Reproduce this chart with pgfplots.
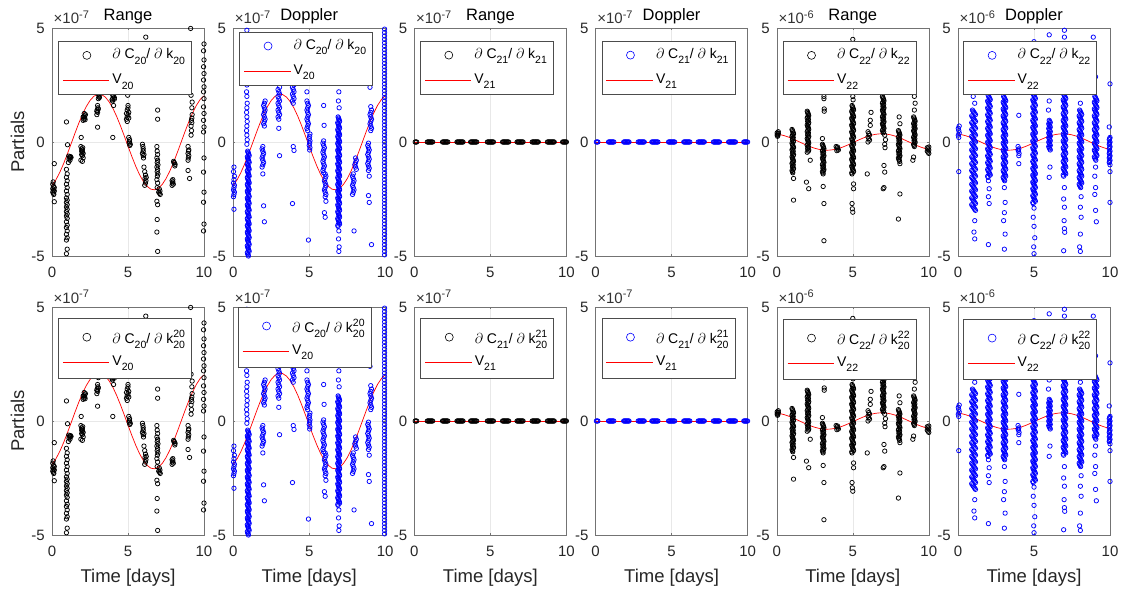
\documentclass[border=0pt]{standalone}
\usepackage{fontspec}
\setmainfont{Liberation Sans}
\usepackage{pgfplots}
\usepackage{pgfplotstable}
\pgfplotsset{compat=1.18}

% ---------------- model curves ----------------
\pgfplotstableread[row sep=\\]{
t v\\
0 -1.903\\ 0.25 -1.666\\ 0.5 -1.350\\ 0.75 -0.970\\ 1 -0.544\\ 1.25 -0.092\\ 1.5 0.365\\ 1.75 0.804\\
2 1.205\\ 2.25 1.548\\ 2.5 1.819\\ 2.75 2.003\\ 3 2.092\\ 3.25 2.082\\ 3.5 1.973\\ 3.75 1.771\\
4 1.485\\ 4.25 1.128\\ 4.5 0.718\\ 4.75 0.274\\ 5 -0.183\\ 5.25 -0.631\\ 5.5 -1.050\\ 5.75 -1.419\\
6 -1.720\\ 6.25 -1.940\\ 6.5 -2.068\\ 6.75 -2.098\\ 7 -2.028\\ 7.25 -1.863\\ 7.5 -1.609\\ 7.75 -1.278\\
8 -0.887\\ 8.25 -0.454\\ 8.5 0\\ 8.75 0.454\\ 9 0.887\\ 9.25 1.278\\ 9.5 1.609\\ 9.75 1.863\\ 10 2.028\\
}\Vtw
\pgfplotstableread[row sep=\\]{
t v\\
0 0.348\\ 0.25 0.319\\ 0.5 0.276\\ 0.75 0.219\\ 1 0.152\\ 1.25 0.078\\ 1.5 0\\ 1.75 -0.078\\
2 -0.152\\ 2.25 -0.219\\ 2.5 -0.276\\ 2.75 -0.319\\ 3 -0.348\\ 3.25 -0.360\\ 3.5 -0.355\\ 3.75 -0.333\\
4 -0.295\\ 4.25 -0.243\\ 4.5 -0.180\\ 4.75 -0.108\\ 5 -0.031\\ 5.25 0.047\\ 5.5 0.123\\ 5.75 0.193\\
6 0.255\\ 6.25 0.304\\ 6.5 0.338\\ 6.75 0.357\\ 7 0.359\\ 7.25 0.343\\ 7.5 0.312\\ 7.75 0.265\\
8 0.206\\ 8.25 0.138\\ 8.5 0.062\\ 8.75 -0.016\\ 9 -0.093\\ 9.25 -0.166\\ 9.5 -0.231\\ 9.75 -0.286\\ 10 -0.326\\
}\Vtt
\pgfplotstableread[row sep=\\]{
t v\\
0 0\\ 10 0\\
}\Vzero

% ---------------- range partials C20 ----------------
\pgfplotstableread[row sep=\\]{
t v\\
0.05 -1.85\\ 0.10 -1.95\\ 0.15 -2.00\\ 0.05 -2.05\\ 0.10 -2.10\\ 0.15 -2.15\\ 0.05 -2.20\\ 0.10 -2.25\\ 0.12 -2.30\\ 0.15 -0.95\\ 0.15 -2.62\\ 0.08 -1.75\\
0.95 -1.20\\ 1.00 -1.40\\ 0.95 -1.55\\ 1.00 -1.70\\ 0.95 -1.85\\ 1.00 -2.00\\ 0.95 -2.15\\ 1.00 -2.30\\ 0.95 -2.45\\ 1.00 -2.55\\ 0.95 -2.65\\ 1.00 -2.75\\ 0.95 -2.85\\ 1.00 -2.95\\ 0.95 -3.05\\ 1.00 -3.15\\ 0.95 -3.25\\ 1.00 -3.35\\ 0.95 -3.50\\ 1.00 -3.65\\ 0.95 -3.75\\ 1.00 -3.90\\ 0.95 -4.05\\ 1.00 -4.20\\ 0.95 -4.30\\ 1.00 -4.70\\ 0.95 -4.90\\ 0.95 0.88\\ 1.02 -0.12\\
1.10 -0.62\\ 1.15 -0.66\\ 1.20 -0.70\\ 1.25 -0.68\\ 1.12 -0.75\\ 1.18 -0.80\\ 1.22 -0.64\\ 1.08 -0.90\\
2.05 0.95\\ 2.10 1.00\\ 2.15 1.05\\ 2.10 1.10\\ 2.15 1.15\\ 2.20 1.20\\ 2.05 1.10\\ 2.12 1.25\\ 2.18 0.98\\
1.90 -0.20\\ 1.95 -0.30\\ 2.00 -0.35\\ 2.00 -0.45\\ 2.05 -0.50\\ 1.95 -0.55\\ 2.00 -0.60\\ 2.05 -0.70\\ 1.90 -0.80\\ 2.00 -0.85\\ 1.95 -0.40\\ 2.02 -0.25\\ 1.92 0.20\\
2.95 1.20\\ 3.00 1.30\\ 2.97 1.40\\ 3.02 1.50\\ 3.00 1.60\\ 2.95 1.35\\ 3.05 1.45\\ 3.00 0.65\\ 3.05 1.90\\ 3.10 2.00\\ 3.08 2.05\\ 3.12 1.95\\ 3.10 2.10\\
3.95 1.85\\ 4.00 1.90\\ 4.05 2.00\\ 4.10 1.95\\ 4.00 2.05\\ 3.98 1.80\\ 4.05 1.60\\ 4.00 0.20\\ 4.10 1.88\\
4.90 1.00\\ 4.95 1.10\\ 5.00 1.20\\ 5.05 1.30\\ 4.95 1.40\\ 5.00 1.50\\ 4.90 1.25\\ 5.05 1.05\\ 5.00 1.60\\ 4.95 0.90\\ 5.05 0.20\\ 5.10 0.10\\ 5.10 0.00\\ 5.15 -0.10\\ 5.12 -0.15\\ 5.08 -0.05\\ 4.98 2.05\\ 6.17 4.60\\
5.95 -0.10\\ 6.00 -0.30\\ 6.00 -0.40\\ 5.95 -0.50\\ 6.05 -0.55\\ 6.00 -0.60\\ 6.02 -0.70\\ 5.98 -0.20\\ 6.10 -1.30\\ 6.15 -1.45\\ 6.12 -1.60\\ 6.18 -1.70\\ 6.15 -1.80\\ 6.20 -1.55\\ 6.10 -1.90\\ 6.05 -1.10\\
6.95 1.40\\ 6.95 1.00\\ 6.90 -0.20\\ 6.92 -0.40\\ 6.95 -0.55\\ 6.90 -0.70\\ 6.95 -0.80\\ 6.92 -0.90\\ 6.97 -1.00\\ 6.90 -1.10\\ 6.95 -1.20\\ 6.92 -1.30\\ 6.97 -1.40\\ 6.93 -1.50\\ 6.90 -1.65\\ 6.95 -1.80\\ 6.92 -2.00\\ 6.90 -2.60\\ 6.95 -2.75\\ 6.92 -3.40\\ 6.90 -3.95\\ 6.95 -4.80\\ 7.05 -2.05\\ 7.10 -2.15\\ 7.08 -2.25\\ 7.12 -2.30\\ 7.02 -2.20\\
8.00 -0.85\\ 8.05 -0.92\\ 8.10 -0.98\\ 8.08 -1.05\\ 8.02 -0.90\\ 7.90 -1.70\\ 7.95 -1.75\\ 7.92 -1.80\\ 7.98 -1.85\\ 7.90 -1.90\\ 7.95 -1.65\\
9.15 0.30\\ 9.18 0.50\\ 9.15 0.70\\ 9.20 0.85\\ 9.17 0.95\\ 9.20 1.05\\ 9.22 1.20\\ 9.20 1.50\\ 9.22 1.75\\ 9.15 2.05\\ 8.95 -0.20\\ 8.98 -0.40\\ 8.95 -0.50\\ 9.00 -0.60\\ 8.97 -0.70\\ 8.95 -0.80\\ 9.00 -0.35\\ 8.95 -1.25\\ 9.05 -1.60\\ 9.12 4.98\\
10.00 4.30\\ 9.97 4.00\\ 10.00 3.60\\ 9.97 3.30\\ 10.00 3.00\\ 9.97 2.72\\ 10.00 2.42\\ 9.97 2.20\\ 10.00 1.90\\ 9.97 1.54\\ 10.00 1.25\\ 9.97 0.95\\ 10.00 0.66\\ 9.97 0.44\\ 10.00 -0.70\\ 9.97 -1.32\\ 10.00 -2.20\\ 9.97 -2.64\\ 10.00 -3.60\\ 9.97 -3.90\\
}\Rtw

% ---------------- doppler partials C20 ----------------
\pgfplotstableread[row sep=\\]{
t v\\
0.05 -1.10\\ 0.02 -1.30\\ 0.08 -1.50\\ 0.05 -1.65\\ 0.02 -1.80\\ 0.08 -1.90\\ 0.05 -2.00\\ 0.02 -2.10\\ 0.08 -2.20\\ 0.05 -2.30\\ 0.02 -2.40\\ 0.05 -2.95\\
0.95 -0.40\\ 1.00 -0.50\\ 1.05 -0.60\\ 0.95 -0.70\\ 1.00 -0.80\\ 1.05 -0.90\\ 0.95 -1.00\\ 1.00 -1.10\\ 1.05 -1.20\\ 0.95 -1.30\\ 1.00 -1.40\\ 1.05 -1.50\\ 0.95 -1.60\\ 1.00 -1.70\\ 1.05 -1.80\\ 0.95 -1.90\\ 1.00 -2.00\\ 1.05 -2.10\\ 0.95 -2.20\\ 1.00 -2.30\\ 1.05 -2.40\\ 0.95 -2.50\\ 1.00 -2.60\\ 1.05 -2.70\\ 0.95 -2.80\\ 1.00 -2.90\\ 1.05 -3.00\\ 0.95 -3.10\\ 1.00 -3.20\\ 1.05 -3.30\\ 0.95 -3.40\\ 1.00 -3.50\\ 1.05 -3.60\\ 0.95 -3.70\\ 1.00 -3.80\\ 1.05 -3.90\\ 0.95 -4.00\\ 1.00 -4.10\\ 1.05 -4.20\\ 0.95 -4.30\\ 1.00 -4.40\\ 1.05 -4.50\\ 0.95 -4.60\\ 1.00 -4.70\\ 1.05 -4.80\\ 0.95 -4.90\\ 1.00 -5.00\\
0.90 4.90\\ 0.90 2.50\\ 0.88 2.20\\ 0.90 2.00\\ 0.92 1.70\\ 0.90 1.50\\ 0.88 1.30\\ 0.90 1.10\\ 0.92 0.90\\ 0.90 0.70\\ 0.88 0.50\\ 0.90 0.30\\ 0.92 0.10\\ 0.90 -0.10\\
2.05 0.70\\ 2.00 0.80\\ 2.05 0.90\\ 2.10 1.00\\ 2.05 1.10\\ 2.00 1.20\\ 2.05 1.30\\ 2.10 1.40\\ 2.05 1.50\\ 2.00 1.60\\ 2.05 1.70\\ 2.10 1.80\\ 1.95 -0.20\\ 1.90 -0.30\\ 1.95 -0.40\\ 2.00 -0.50\\ 1.95 -0.60\\ 1.90 -0.70\\ 1.95 -0.80\\ 2.00 -0.90\\ 1.95 -1.00\\ 1.90 -1.10\\ 1.95 -1.40\\ 2.00 -2.80\\ 2.05 -3.50\\
3.00 1.00\\ 2.95 1.10\\ 3.05 1.20\\ 3.00 1.30\\ 2.95 1.40\\ 3.05 1.50\\ 3.00 1.60\\ 2.95 1.70\\ 3.05 1.80\\ 3.00 1.90\\ 2.95 2.00\\ 3.05 2.10\\ 3.00 2.20\\ 2.95 2.30\\ 3.05 2.40\\ 3.00 0.60\\ 3.05 -0.60\\
3.95 1.70\\ 3.90 1.80\\ 4.00 1.90\\ 3.95 2.00\\ 3.90 2.10\\ 4.00 2.20\\ 3.95 2.30\\ 3.90 2.40\\ 4.00 2.50\\ 3.95 2.60\\ 3.90 2.70\\ 4.00 2.80\\ 3.95 2.90\\ 3.90 3.00\\ 3.95 -0.20\\ 4.00 -0.37\\ 3.90 -2.70\\
4.90 0.50\\ 4.85 0.60\\ 4.90 0.70\\ 4.95 0.80\\ 4.90 0.90\\ 4.85 1.00\\ 4.90 1.10\\ 4.95 1.20\\ 4.90 1.30\\ 4.85 1.40\\ 4.90 1.50\\ 4.95 1.60\\ 4.90 1.70\\ 4.85 1.80\\ 5.03 -0.35\\ 5.05 -0.25\\ 5.00 -0.15\\ 5.03 -0.05\\ 5.05 0.05\\ 5.00 0.15\\ 5.03 0.25\\ 5.05 0.35\\ 4.85 2.20\\ 4.95 -4.30\\
5.95 0.05\\ 5.90 -0.05\\ 5.95 -0.15\\ 6.00 -0.25\\ 5.95 -0.35\\ 5.90 -0.45\\ 5.95 -0.55\\ 6.00 -0.65\\ 5.95 -0.75\\ 5.90 -0.85\\ 5.95 -0.95\\ 6.00 -1.05\\ 5.95 -1.15\\ 5.90 -1.25\\ 5.95 -1.35\\ 6.05 -1.40\\ 6.10 -1.50\\ 6.05 -1.60\\ 6.00 -1.70\\ 6.05 -1.80\\ 6.10 -1.90\\ 6.05 -2.00\\ 6.00 -2.10\\ 6.05 -2.20\\ 6.10 -2.30\\ 6.05 -2.40\\ 5.95 1.60\\ 5.98 0.73\\ 6.10 -2.60\\ 6.00 -3.10\\ 6.05 -3.30\\
6.90 1.10\\ 6.95 1.00\\ 7.00 0.90\\ 6.90 0.80\\ 6.95 0.70\\ 7.00 0.60\\ 6.90 0.50\\ 6.95 0.40\\ 7.00 0.30\\ 6.90 0.20\\ 6.95 0.10\\ 7.00 0.00\\ 6.90 -0.10\\ 6.95 -0.20\\ 7.00 -0.30\\ 6.90 -0.40\\ 6.95 -0.50\\ 7.00 -0.60\\ 6.90 -0.70\\ 6.95 -0.80\\ 7.00 -0.90\\ 6.90 -1.00\\ 6.95 -1.10\\ 7.00 -1.20\\ 6.90 -1.30\\ 6.95 -1.40\\ 7.00 -1.50\\ 6.90 -1.60\\ 6.95 -1.70\\ 7.00 -1.80\\ 6.90 -1.90\\ 6.95 -2.00\\ 7.00 -2.10\\ 6.90 -2.20\\ 6.95 -2.30\\ 7.00 -2.40\\ 6.90 -2.50\\ 6.95 -2.60\\ 7.00 -2.70\\ 6.90 -2.80\\ 6.95 -2.90\\ 7.00 -3.00\\ 6.90 -3.10\\ 6.95 -3.20\\ 7.00 -3.30\\ 6.90 -3.40\\ 6.95 -3.50\\ 7.00 -3.60\\ 6.90 -3.70\\ 6.95 2.20\\ 6.92 1.80\\ 6.97 1.50\\ 6.95 -3.90\\ 6.93 -4.25\\ 6.97 -4.60\\ 6.95 -4.80\\
8.05 -0.70\\ 8.10 -0.80\\ 8.05 -0.90\\ 8.00 -1.00\\ 8.05 -1.10\\ 8.10 -1.20\\ 7.90 -1.40\\ 7.85 -1.50\\ 7.90 -1.60\\ 7.95 -1.70\\ 7.90 -1.80\\ 7.85 -1.90\\ 7.90 -2.00\\ 7.95 -2.10\\ 7.90 -2.20\\ 7.85 -2.30\\ 7.95 -3.90\\
9.05 0.50\\ 9.10 0.60\\ 9.05 0.70\\ 9.00 0.80\\ 9.05 0.90\\ 9.10 1.00\\ 9.05 1.10\\ 9.00 1.20\\ 9.05 1.30\\ 9.10 1.40\\ 9.05 1.55\\ 8.90 -0.05\\ 8.85 -0.15\\ 8.90 -0.25\\ 8.95 -0.35\\ 8.90 -0.45\\ 8.85 -0.55\\ 8.90 -0.65\\ 8.95 -0.75\\ 8.90 -0.85\\ 8.85 -0.95\\ 8.90 -1.05\\ 8.95 -1.15\\ 8.90 -1.25\\ 9.00 2.40\\ 8.95 -1.50\\ 8.90 -2.35\\ 8.95 -2.65\\ 9.10 -4.50\\
9.96 4.95\\ 9.96 4.80\\ 9.96 4.65\\ 9.96 4.50\\ 9.96 4.35\\ 9.96 4.20\\ 9.96 4.05\\ 9.96 3.90\\ 9.96 3.75\\ 9.96 3.60\\ 9.96 3.45\\ 9.96 3.30\\ 9.96 3.15\\ 9.96 3.00\\ 9.96 2.85\\ 9.96 2.70\\ 9.96 2.55\\ 9.96 2.40\\ 9.96 2.25\\ 9.96 2.10\\ 9.96 1.95\\ 9.96 1.80\\ 9.96 1.65\\ 9.96 1.50\\ 9.96 1.35\\ 9.96 1.20\\ 9.96 1.05\\ 9.96 0.90\\ 9.96 0.75\\ 9.96 0.60\\ 9.96 0.45\\ 9.96 0.30\\ 9.96 0.15\\ 9.96 0.00\\ 9.96 -0.15\\ 9.96 -0.30\\ 9.96 -0.45\\ 9.96 -0.60\\ 9.96 -0.75\\ 9.96 -0.90\\ 9.96 -1.05\\ 9.96 -1.20\\ 9.96 -1.35\\ 9.96 -1.50\\ 9.96 -1.65\\ 9.96 -1.80\\ 9.96 -1.95\\ 9.96 -2.10\\ 9.96 -2.25\\ 9.96 -2.40\\ 9.96 -2.55\\ 9.96 -2.70\\ 9.96 -2.85\\ 9.96 -3.00\\ 9.96 -3.15\\ 9.96 -3.30\\ 9.96 -3.45\\ 9.96 -3.60\\ 9.96 -3.75\\ 9.96 -3.90\\ 9.96 -4.05\\ 9.96 -4.20\\ 9.96 -4.35\\ 9.96 -4.50\\ 9.96 -4.65\\ 9.96 -4.80\\ 9.96 -4.95\\
}\Dtw
\pgfplotstableread[row sep=\\]{
t v\\
0.98 -0.45\\ 1.03 -0.55\\ 0.93 -0.65\\ 0.98 -0.75\\ 1.03 -0.85\\ 0.93 -0.95\\ 0.98 -1.05\\ 1.03 -1.15\\ 0.93 -1.25\\ 0.98 -1.35\\ 1.03 -1.45\\ 0.93 -1.55\\ 0.98 -1.65\\ 1.03 -1.75\\ 0.93 -1.85\\ 0.98 -1.95\\ 1.03 -2.05\\ 0.93 -2.15\\ 0.98 -2.25\\ 1.03 -2.35\\ 0.93 -2.45\\ 0.98 -2.55\\ 1.03 -2.65\\ 0.93 -2.75\\ 0.98 -2.85\\ 1.03 -2.95\\ 0.93 -3.05\\ 0.98 -3.15\\ 1.03 -3.25\\ 0.93 -3.35\\ 0.98 -3.45\\ 1.03 -3.55\\ 0.93 -3.65\\ 0.98 -3.75\\ 1.03 -3.85\\ 0.93 -3.95\\ 0.98 -4.05\\ 1.03 -4.15\\ 0.93 -4.25\\ 0.98 -4.35\\ 1.03 -4.45\\ 0.93 -4.55\\ 0.98 -4.65\\ 1.03 -4.75\\ 0.93 -4.85\\ 0.98 -4.95\\
6.93 1.05\\ 6.98 0.95\\ 6.88 0.85\\ 6.93 0.75\\ 6.98 0.65\\ 6.88 0.55\\ 6.93 0.45\\ 6.98 0.35\\ 6.88 0.25\\ 6.93 0.15\\ 6.98 0.05\\ 6.88 -0.05\\ 6.93 -0.15\\ 6.98 -0.25\\ 6.88 -0.35\\ 6.93 -0.45\\ 6.98 -0.55\\ 6.88 -0.65\\ 6.93 -0.75\\ 6.98 -0.85\\ 6.88 -0.95\\ 6.93 -1.05\\ 6.98 -1.15\\ 6.88 -1.25\\ 6.93 -1.35\\ 6.98 -1.45\\ 6.88 -1.55\\ 6.93 -1.65\\ 6.98 -1.75\\ 6.88 -1.85\\ 6.93 -1.95\\ 6.98 -2.05\\ 6.88 -2.15\\ 6.93 -2.25\\ 6.98 -2.35\\ 6.88 -2.45\\ 6.93 -2.55\\ 6.98 -2.65\\ 6.88 -2.75\\ 6.93 -2.85\\ 6.98 -2.95\\ 6.88 -3.05\\ 6.93 -3.15\\ 6.98 -3.25\\ 6.88 -3.35\\ 6.93 -3.45\\ 6.98 -3.55\\ 6.88 -3.65\\
}\DtwB

% ---------------- C21 partials (zero) ----------------
\pgfplotstableread[row sep=\\]{
t v\\
0.05 0\\ 0.10 0\\ 0.15 0\\
0.85 0\\ 0.90 0\\ 0.95 0\\ 1.00 0\\ 1.05 0\\ 1.10 0\\ 1.15 0\\ 1.20 0\\
1.85 0\\ 1.90 0\\ 1.95 0\\ 2.00 0\\ 2.05 0\\ 2.10 0\\ 2.15 0\\ 2.20 0\\
2.80 0\\ 2.85 0\\ 2.90 0\\ 2.95 0\\ 3.00 0\\ 3.05 0\\ 3.10 0\\ 3.15 0\\ 3.20 0\\
3.70 0\\ 3.75 0\\ 3.80 0\\ 3.85 0\\ 3.90 0\\ 3.95 0\\ 4.00 0\\ 4.05 0\\ 4.10 0\\
4.80 0\\ 4.85 0\\ 4.90 0\\ 4.95 0\\ 5.00 0\\ 5.05 0\\ 5.10 0\\ 5.15 0\\ 5.20 0\\
5.80 0\\ 5.85 0\\ 5.90 0\\ 5.95 0\\ 6.00 0\\ 6.05 0\\ 6.10 0\\ 6.15 0\\ 6.20 0\\
6.75 0\\ 6.80 0\\ 6.85 0\\ 6.90 0\\ 6.95 0\\ 7.00 0\\ 7.05 0\\ 7.10 0\\ 7.15 0\\
7.75 0\\ 7.80 0\\ 7.85 0\\ 7.90 0\\ 7.95 0\\ 8.00 0\\ 8.05 0\\ 8.10 0\\ 8.15 0\\
8.75 0\\ 8.80 0\\ 8.85 0\\ 8.90 0\\ 8.95 0\\ 9.00 0\\ 9.05 0\\ 9.10 0\\ 9.15 0\\ 9.20 0\\
9.75 0\\ 9.80 0\\ 9.85 0\\ 9.90 0\\ 9.95 0\\ 10.00 0\\
}\Zr

% ---------------- range partials C22 ----------------
\pgfplotstableread[row sep=\\]{
t v\\
0.02 0.40\\ 0.05 0.35\\ 0.08 0.30\\ 0.10 0.38\\ 0.05 0.25\\ 0.10 0.45\\ 0.02 0.30\\
1.00 0.55\\ 1.05 0.45\\ 1.10 0.35\\ 1.00 0.25\\ 1.05 0.15\\ 1.10 0.05\\ 1.00 -0.05\\ 1.05 -0.15\\ 1.10 -0.25\\ 1.00 -0.35\\ 1.05 -0.45\\ 1.10 -0.55\\ 1.00 -0.65\\ 1.05 -0.75\\ 1.10 -0.85\\ 1.00 -0.95\\ 1.05 -1.05\\ 1.10 -1.15\\ 1.00 -1.25\\ 1.05 -1.35\\ 1.10 -1.60\\ 1.10 -2.55\\
2.00 1.35\\ 2.05 1.25\\ 2.10 1.15\\ 2.00 1.05\\ 2.05 0.95\\ 2.10 0.85\\ 2.00 0.75\\ 2.05 0.65\\ 2.10 0.55\\ 2.00 0.45\\ 2.05 0.35\\ 2.10 0.25\\ 2.00 0.15\\ 2.05 0.05\\ 2.10 -0.05\\ 2.00 -0.15\\ 2.05 -0.25\\ 2.10 -0.35\\ 2.00 -0.45\\ 2.20 -0.80\\ 1.95 -1.76\\ 2.10 -2.05\\
3.00 -0.10\\ 3.05 -0.20\\ 3.10 -0.30\\ 3.00 -0.40\\ 3.05 -0.50\\ 3.10 -0.60\\ 3.00 -0.70\\ 3.05 -0.80\\ 3.10 -0.90\\ 3.00 -1.00\\ 3.05 -1.10\\ 3.10 -1.20\\ 3.00 -1.30\\ 3.05 -1.40\\ 3.10 2.00\\ 3.10 1.90\\ 3.12 1.45\\ 3.12 1.35\\ 3.00 0.15\\ 3.05 -1.95\\ 3.10 -2.70\\ 3.10 -4.33\\
3.90 -0.20\\ 3.95 -0.25\\ 4.00 -0.30\\ 4.05 -0.35\\ 3.95 -0.38\\ 4.00 -0.22\\
4.95 1.60\\ 5.00 1.50\\ 5.05 1.40\\ 4.95 1.30\\ 5.00 1.20\\ 5.05 1.10\\ 4.95 1.00\\ 5.00 0.90\\ 5.05 0.80\\ 4.95 0.70\\ 5.00 0.60\\ 5.05 0.50\\ 4.95 0.40\\ 5.00 0.30\\ 5.05 0.20\\ 4.95 0.10\\ 5.00 0.00\\ 5.05 -0.10\\ 4.95 -0.20\\ 5.00 -0.30\\ 5.05 -0.40\\ 4.95 -0.50\\ 5.00 -0.60\\ 5.05 -0.70\\ 4.95 -0.80\\ 5.00 -0.90\\ 5.05 -1.00\\ 4.95 -1.10\\ 5.00 -1.20\\ 5.05 -1.30\\ 4.95 -1.40\\ 5.00 4.50\\ 5.00 2.00\\ 5.02 1.85\\ 5.05 -1.84\\ 5.05 -2.05\\ 4.95 -2.70\\ 4.97 -2.93\\ 5.00 -3.08\\
6.00 0.45\\ 6.05 0.37\\ 6.10 0.30\\ 6.00 0.22\\ 6.05 0.15\\ 6.10 0.08\\ 6.00 0.00\\ 6.20 1.30\\ 6.15 0.95\\ 6.15 0.73\\ 5.95 -1.40\\
6.95 2.00\\ 7.00 1.90\\ 7.05 1.80\\ 6.95 1.70\\ 7.00 1.60\\ 7.05 1.50\\ 6.95 1.40\\ 7.00 1.30\\ 7.05 1.20\\ 6.95 1.10\\ 7.00 1.00\\ 7.05 0.90\\ 6.95 0.80\\ 7.00 0.70\\ 7.05 0.60\\ 6.95 0.50\\ 7.00 0.40\\ 7.10 0.30\\ 7.15 0.10\\ 7.10 -0.10\\ 7.12 -0.25\\ 7.05 -1.03\\ 7.10 -1.32\\ 7.00 -2.05\\ 7.05 -2.00\\
8.00 0.50\\ 8.05 0.40\\ 8.10 0.30\\ 8.00 0.20\\ 8.05 0.10\\ 8.10 0.00\\ 8.00 -0.10\\ 8.05 -0.20\\ 8.10 -0.30\\ 8.00 -0.40\\ 8.05 -0.50\\ 8.10 -0.60\\ 8.00 -0.70\\ 8.05 -0.80\\ 8.10 -0.95\\ 8.05 1.10\\ 8.10 0.80\\ 8.10 -2.28\\ 8.00 -3.38\\
9.00 1.10\\ 9.05 1.00\\ 9.10 0.90\\ 9.00 0.80\\ 9.05 0.70\\ 9.10 0.60\\ 9.00 0.50\\ 9.05 0.40\\ 9.10 0.30\\ 9.00 0.20\\ 9.05 0.10\\ 9.10 0.00\\ 9.00 -0.10\\ 9.05 -0.20\\ 9.05 2.00\\ 9.10 1.70\\ 9.05 1.40\\ 9.00 -0.66\\ 8.95 -0.80\\
9.90 -0.25\\ 9.95 -0.30\\ 10.00 -0.35\\ 9.95 -0.45\\ 10.00 -0.50\\ 9.90 -0.40\\ 10.00 -0.22\\
}\Rtt
\pgfplotstableread[row sep=\\]{
t v\\
1.03 0.50\\ 1.08 0.40\\ 1.03 0.30\\ 1.08 0.20\\ 1.03 0.10\\ 1.08 0.00\\ 1.03 -0.10\\ 1.08 -0.20\\ 1.03 -0.30\\ 1.08 -0.40\\ 1.03 -0.50\\ 1.08 -0.60\\ 1.03 -0.70\\ 1.08 -0.80\\ 1.03 -0.90\\ 1.08 -1.00\\ 1.03 -1.10\\ 1.08 -1.20\\ 1.03 -1.30\\
2.03 1.30\\ 2.08 1.20\\ 2.03 1.10\\ 2.08 1.00\\ 2.03 0.90\\ 2.08 0.80\\ 2.03 0.70\\ 2.08 0.60\\ 2.03 0.50\\ 2.08 0.40\\ 2.03 0.30\\ 2.08 0.20\\ 2.03 0.10\\ 2.08 0.00\\ 2.03 -0.10\\ 2.08 -0.20\\ 2.03 -0.30\\ 2.08 -0.40\\
3.03 -0.15\\ 3.08 -0.25\\ 3.03 -0.35\\ 3.08 -0.45\\ 3.03 -0.55\\ 3.08 -0.65\\ 3.03 -0.75\\ 3.08 -0.85\\ 3.03 -0.95\\ 3.08 -1.05\\ 3.03 -1.15\\ 3.08 -1.25\\ 3.03 -1.35\\
4.98 1.55\\ 5.03 1.45\\ 4.93 1.35\\ 4.98 1.25\\ 5.03 1.15\\ 4.93 1.05\\ 4.98 0.95\\ 5.03 0.85\\ 4.93 0.75\\ 4.98 0.65\\ 5.03 0.55\\ 4.93 0.45\\ 4.98 0.35\\ 5.03 0.25\\ 4.93 0.15\\ 4.98 0.05\\ 5.03 -0.05\\ 4.93 -0.15\\ 4.98 -0.25\\ 5.03 -0.35\\ 4.93 -0.45\\ 4.98 -0.55\\ 5.03 -0.65\\ 4.93 -0.75\\ 4.98 -0.85\\ 5.03 -0.95\\ 4.93 -1.05\\ 4.98 -1.15\\ 5.03 -1.25\\ 4.93 -1.35\\
6.98 1.95\\ 7.03 1.85\\ 6.98 1.75\\ 7.03 1.65\\ 6.98 1.55\\ 7.03 1.45\\ 6.98 1.35\\ 7.03 1.25\\ 6.98 1.15\\ 7.03 1.05\\ 6.98 0.95\\ 7.03 0.85\\ 6.98 0.75\\ 7.03 0.65\\ 6.98 0.55\\ 7.03 0.45\\
8.03 0.45\\ 8.08 0.35\\ 8.03 0.25\\ 8.08 0.15\\ 8.03 0.05\\ 8.08 -0.05\\ 8.03 -0.15\\ 8.08 -0.25\\ 8.03 -0.35\\ 8.08 -0.45\\ 8.03 -0.55\\ 8.08 -0.65\\ 8.03 -0.75\\ 8.08 -0.85\\
9.03 1.05\\ 9.08 0.95\\ 9.03 0.85\\ 9.08 0.75\\ 9.03 0.65\\ 9.08 0.55\\ 9.03 0.45\\ 9.08 0.35\\ 9.03 0.25\\ 9.08 0.15\\ 9.03 0.05\\ 9.08 -0.05\\ 9.03 -0.15\\
}\RttB

% ---------------- doppler partials C22 ----------------
\pgfplotstableread[row sep=\\]{
t v\\
0.05 0.20\\ 0.02 0.30\\ 0.08 0.40\\ 0.05 0.50\\ 0.02 0.60\\ 0.08 0.70\\ 0.05 -1.30\\
0.95 1.40\\ 1.05 1.30\\ 1.15 1.20\\ 0.95 1.10\\ 1.05 1.00\\ 1.15 0.90\\ 0.95 0.80\\ 1.05 0.70\\ 1.15 0.60\\ 0.95 0.50\\ 1.05 0.40\\ 1.15 0.30\\ 0.95 0.20\\ 1.05 0.10\\ 1.15 0.00\\ 0.95 -0.10\\ 1.05 -0.20\\ 1.15 -0.30\\ 0.95 -0.40\\ 1.05 -0.50\\ 1.15 -0.60\\ 0.95 -0.70\\ 1.05 -0.80\\ 1.15 -0.90\\ 0.95 -1.00\\ 1.05 -1.10\\ 1.15 -1.20\\ 0.95 -1.30\\ 1.05 -1.40\\ 1.15 -1.50\\ 0.95 -1.60\\ 1.05 -1.70\\ 1.15 -1.80\\ 0.95 -1.90\\ 1.05 -2.00\\ 1.15 -2.10\\ 0.95 -2.20\\ 1.05 -2.30\\ 1.15 -2.40\\ 0.95 -2.50\\ 1.05 -2.60\\ 1.15 -2.70\\ 0.95 -2.80\\ 1.05 -2.90\\ 1.15 -3.00\\ 1.00 2.00\\ 1.10 1.70\\ 1.10 -3.45\\ 1.05 -3.95\\ 1.10 -4.25\\
1.98 2.05\\ 2.05 1.95\\ 2.12 1.85\\ 1.98 1.75\\ 2.05 1.65\\ 2.12 1.55\\ 1.98 1.45\\ 2.05 1.35\\ 2.12 1.25\\ 1.98 1.15\\ 2.05 1.05\\ 2.12 0.95\\ 1.98 0.85\\ 2.05 0.75\\ 2.12 0.65\\ 1.98 0.55\\ 2.05 0.45\\ 2.12 0.35\\ 1.98 0.25\\ 2.05 0.15\\ 2.12 0.05\\ 1.98 -0.05\\ 2.05 -0.15\\ 2.12 -0.25\\ 1.98 -0.35\\ 2.05 -0.45\\ 2.12 -0.55\\ 1.98 -0.65\\ 2.05 -0.75\\ 2.12 -0.85\\ 1.98 -0.95\\ 2.05 -1.05\\ 2.12 -1.15\\ 1.98 -1.25\\ 2.05 -1.35\\ 2.12 -1.45\\ 1.98 -1.55\\ 2.00 -1.70\\ 2.05 -2.05\\ 2.00 -2.40\\ 2.05 -2.70\\ 2.00 -4.50\\
3.00 2.00\\ 3.07 1.90\\ 3.14 1.80\\ 3.00 1.70\\ 3.07 1.60\\ 3.14 1.50\\ 3.00 1.40\\ 3.07 1.30\\ 3.14 1.20\\ 3.00 1.10\\ 3.07 1.00\\ 3.14 0.90\\ 3.00 0.80\\ 3.07 0.70\\ 3.14 0.60\\ 3.00 0.50\\ 3.07 0.40\\ 3.14 0.30\\ 3.00 0.20\\ 3.07 0.10\\ 3.14 0.00\\ 3.00 -0.10\\ 3.07 -0.20\\ 3.14 -0.30\\ 3.00 -0.40\\ 3.07 -0.50\\ 3.14 -0.60\\ 3.00 -0.70\\ 3.07 -0.80\\ 3.14 -0.90\\ 3.00 -1.00\\ 3.07 -1.10\\ 3.14 -1.20\\ 3.00 -1.30\\ 3.07 -1.40\\ 3.14 -1.50\\ 3.00 -1.60\\ 3.07 -1.70\\ 3.05 -2.00\\ 3.10 -2.65\\ 3.05 -3.10\\ 3.00 -3.45\\ 3.10 -4.04\\ 3.05 -4.70\\
3.95 -0.20\\ 4.00 -0.30\\ 3.98 -0.40\\ 4.02 -0.50\\ 4.00 -0.60\\ 3.95 -0.35\\ 4.00 1.17\\ 4.00 -0.95\\
4.95 2.10\\ 5.02 2.00\\ 5.09 1.90\\ 4.95 1.80\\ 5.02 1.70\\ 5.09 1.60\\ 4.95 1.50\\ 5.02 1.40\\ 5.09 1.30\\ 4.95 1.20\\ 5.02 1.10\\ 5.09 1.00\\ 4.95 0.90\\ 5.02 0.80\\ 5.09 0.70\\ 4.95 0.60\\ 5.02 0.50\\ 5.09 0.40\\ 4.95 0.30\\ 5.02 0.20\\ 5.09 0.10\\ 4.95 0.00\\ 5.02 -0.10\\ 5.09 -0.20\\ 4.95 -0.30\\ 5.02 -0.40\\ 5.09 -0.50\\ 4.95 -0.60\\ 5.02 -0.70\\ 5.09 -0.80\\ 4.95 -0.90\\ 5.02 -1.00\\ 5.09 -1.10\\ 4.95 -1.20\\ 5.02 -1.30\\ 5.09 -1.40\\ 4.95 -1.50\\ 5.02 -1.60\\ 5.09 -1.70\\ 4.95 -1.80\\ 5.02 -1.90\\ 5.09 -2.00\\ 4.95 -2.10\\ 5.02 -2.20\\ 5.09 -2.30\\ 4.95 -2.40\\ 5.02 -2.50\\ 5.09 -2.60\\ 4.95 -2.70\\ 5.00 4.40\\ 5.00 3.90\\ 5.02 3.45\\ 5.00 2.86\\ 4.98 2.40\\ 5.00 -2.90\\ 4.95 -3.30\\ 5.00 -3.70\\ 5.05 -4.20\\ 4.98 -4.60\\ 5.00 -4.90\\
6.00 0.95\\ 6.07 0.85\\ 6.00 0.75\\ 6.07 0.65\\ 6.00 0.55\\ 6.07 0.45\\ 6.00 0.35\\ 6.07 0.25\\ 6.00 0.15\\ 6.07 0.05\\ 6.00 -0.05\\ 6.07 -0.15\\ 6.00 -0.25\\ 6.07 -0.35\\ 6.00 1.80\\ 5.95 1.40\\ 6.00 4.70\\ 6.05 -1.10\\ 6.00 -1.55\\
6.95 2.10\\ 7.02 2.00\\ 7.09 1.90\\ 6.95 1.80\\ 7.02 1.70\\ 7.09 1.60\\ 6.95 1.50\\ 7.02 1.40\\ 7.09 1.30\\ 6.95 1.20\\ 7.02 1.10\\ 7.09 1.00\\ 6.95 0.90\\ 7.02 0.80\\ 7.09 0.70\\ 6.95 0.60\\ 7.02 0.50\\ 7.09 0.40\\ 6.95 0.30\\ 7.02 0.20\\ 7.09 0.10\\ 6.95 0.00\\ 7.02 -0.10\\ 7.09 -0.20\\ 6.95 -0.30\\ 7.02 -0.40\\ 7.09 -0.50\\ 6.95 -0.60\\ 7.02 -0.70\\ 7.09 -0.80\\ 6.95 -0.90\\ 7.02 -1.00\\ 7.09 -1.10\\ 6.95 -1.20\\ 7.02 -1.30\\ 7.09 -1.40\\ 6.95 -1.50\\ 7.00 4.90\\ 7.00 4.60\\ 6.98 3.50\\ 7.00 2.90\\ 7.02 2.50\\ 7.00 -2.00\\ 6.95 -2.50\\ 7.00 -2.86\\ 6.98 -3.45\\ 7.00 -3.80\\ 7.02 -3.96\\ 6.95 -4.77\\
8.00 1.40\\ 8.07 1.30\\ 8.14 1.20\\ 8.00 1.10\\ 8.07 1.00\\ 8.14 0.90\\ 8.00 0.80\\ 8.07 0.70\\ 8.14 0.60\\ 8.00 0.50\\ 8.07 0.40\\ 8.14 0.30\\ 8.00 0.20\\ 8.07 0.10\\ 8.14 0.00\\ 8.00 -0.10\\ 8.07 -0.20\\ 8.14 -0.30\\ 8.00 -0.40\\ 8.07 -0.50\\ 8.14 -0.60\\ 8.00 -0.70\\ 8.07 -0.80\\ 8.14 -0.90\\ 8.00 -1.00\\ 8.07 -1.10\\ 8.14 -1.20\\ 8.00 -1.30\\ 8.07 -1.40\\ 8.14 -1.50\\ 8.00 -1.60\\ 8.07 -1.70\\ 8.14 -1.80\\ 8.00 -1.90\\ 8.07 -2.00\\ 8.05 1.70\\ 8.10 -2.40\\ 8.05 -2.86\\ 8.10 -3.30\\ 8.05 -4.04\\ 8.00 -4.60\\ 8.05 -4.80\\
9.00 2.00\\ 9.07 1.90\\ 9.14 1.80\\ 9.00 1.70\\ 9.07 1.60\\ 9.14 1.50\\ 9.00 1.40\\ 9.07 1.30\\ 9.14 1.20\\ 9.00 1.10\\ 9.07 1.00\\ 9.14 0.90\\ 9.00 0.80\\ 9.07 0.70\\ 9.14 0.60\\ 9.00 0.50\\ 9.07 0.40\\ 9.14 0.30\\ 9.00 0.20\\ 9.07 0.10\\ 9.14 0.00\\ 9.00 -0.10\\ 9.07 -0.20\\ 9.14 -0.30\\ 9.00 -0.40\\ 9.07 -0.50\\ 9.14 -0.60\\ 9.00 -0.70\\ 9.07 -0.80\\ 9.05 -1.10\\ 9.00 -1.50\\ 9.05 -2.00\\ 9.00 -2.30\\ 9.05 -3.00\\ 9.10 -3.50\\ 8.90 4.60\\ 9.05 2.86\\
10.00 0.20\\ 9.95 0.10\\ 10.00 0.00\\ 9.95 -0.10\\ 10.00 -0.20\\ 9.95 -0.30\\ 10.00 -0.40\\ 9.95 -0.50\\ 10.00 -0.60\\ 9.95 -0.70\\ 10.00 -0.80\\ 9.95 -0.90\\ 10.00 -1.00\\ 10.00 2.55\\ 9.95 0.66\\ 10.00 -2.65\\ 10.00 -1.30\\
}\Dtt
\pgfplotstableread[row sep=\\]{
t v\\
1.00 1.35\\ 1.10 1.25\\ 0.90 1.15\\ 1.00 1.05\\ 1.10 0.95\\ 0.90 0.85\\ 1.00 0.75\\ 1.10 0.65\\ 0.90 0.55\\ 1.00 0.45\\ 1.10 0.35\\ 0.90 0.25\\ 1.00 0.15\\ 1.10 0.05\\ 0.90 -0.05\\ 1.00 -0.15\\ 1.10 -0.25\\ 0.90 -0.35\\ 1.00 -0.45\\ 1.10 -0.55\\ 0.90 -0.65\\ 1.00 -0.75\\ 1.10 -0.85\\ 0.90 -0.95\\ 1.00 -1.05\\ 1.10 -1.15\\ 0.90 -1.25\\ 1.00 -1.35\\ 1.10 -1.45\\ 0.90 -1.55\\ 1.00 -1.65\\ 1.10 -1.75\\ 0.90 -1.85\\ 1.00 -1.95\\ 1.10 -2.05\\ 0.90 -2.15\\ 1.00 -2.25\\ 1.10 -2.35\\ 0.90 -2.45\\ 1.00 -2.55\\ 1.10 -2.65\\ 0.90 -2.75\\ 1.00 -2.85\\ 1.10 -2.95\\
2.02 2.00\\ 2.09 1.90\\ 1.95 1.80\\ 2.02 1.70\\ 2.09 1.60\\ 1.95 1.50\\ 2.02 1.40\\ 2.09 1.30\\ 1.95 1.20\\ 2.02 1.10\\ 2.09 1.00\\ 1.95 0.90\\ 2.02 0.80\\ 2.09 0.70\\ 1.95 0.60\\ 2.02 0.50\\ 2.09 0.40\\ 1.95 0.30\\ 2.02 0.20\\ 2.09 0.10\\ 1.95 0.00\\ 2.02 -0.10\\ 2.09 -0.20\\ 1.95 -0.30\\ 2.02 -0.40\\ 2.09 -0.50\\ 1.95 -0.60\\ 2.02 -0.70\\ 2.09 -0.80\\ 1.95 -0.90\\ 2.02 -1.00\\ 2.09 -1.10\\ 1.95 -1.20\\ 2.02 -1.30\\ 2.09 -1.40\\ 1.95 -1.50\\
3.04 1.95\\ 3.11 1.85\\ 2.97 1.75\\ 3.04 1.65\\ 3.11 1.55\\ 2.97 1.45\\ 3.04 1.35\\ 3.11 1.25\\ 2.97 1.15\\ 3.04 1.05\\ 3.11 0.95\\ 2.97 0.85\\ 3.04 0.75\\ 3.11 0.65\\ 2.97 0.55\\ 3.04 0.45\\ 3.11 0.35\\ 2.97 0.25\\ 3.04 0.15\\ 3.11 0.05\\ 2.97 -0.05\\ 3.04 -0.15\\ 3.11 -0.25\\ 2.97 -0.35\\ 3.04 -0.45\\ 3.11 -0.55\\ 2.97 -0.65\\ 3.04 -0.75\\ 3.11 -0.85\\ 2.97 -0.95\\ 3.04 -1.05\\ 3.11 -1.15\\ 2.97 -1.25\\ 3.04 -1.35\\ 3.11 -1.45\\ 2.97 -1.55\\ 3.04 -1.65\\
4.99 2.05\\ 5.06 1.95\\ 4.92 1.85\\ 4.99 1.75\\ 5.06 1.65\\ 4.92 1.55\\ 4.99 1.45\\ 5.06 1.35\\ 4.92 1.25\\ 4.99 1.15\\ 5.06 1.05\\ 4.92 0.95\\ 4.99 0.85\\ 5.06 0.75\\ 4.92 0.65\\ 4.99 0.55\\ 5.06 0.45\\ 4.92 0.35\\ 4.99 0.25\\ 5.06 0.15\\ 4.92 0.05\\ 4.99 -0.05\\ 5.06 -0.15\\ 4.92 -0.25\\ 4.99 -0.35\\ 5.06 -0.45\\ 4.92 -0.55\\ 4.99 -0.65\\ 5.06 -0.75\\ 4.92 -0.85\\ 4.99 -0.95\\ 5.06 -1.05\\ 4.92 -1.15\\ 4.99 -1.25\\ 5.06 -1.35\\ 4.92 -1.45\\ 4.99 -1.55\\ 5.06 -1.65\\ 4.92 -1.75\\ 4.99 -1.85\\ 5.06 -1.95\\ 4.92 -2.05\\ 4.99 -2.15\\ 5.06 -2.25\\ 4.92 -2.35\\ 4.99 -2.45\\ 5.06 -2.55\\ 4.92 -2.65\\
6.04 0.90\\ 5.97 0.80\\ 6.04 0.70\\ 5.97 0.60\\ 6.04 0.50\\ 5.97 0.40\\ 6.04 0.30\\ 5.97 0.20\\ 6.04 0.10\\ 5.97 0.00\\ 6.04 -0.10\\ 5.97 -0.20\\ 6.04 -0.30\\
6.99 2.05\\ 7.06 1.95\\ 6.92 1.85\\ 6.99 1.75\\ 7.06 1.65\\ 6.92 1.55\\ 6.99 1.45\\ 7.06 1.35\\ 6.92 1.25\\ 6.99 1.15\\ 7.06 1.05\\ 6.92 0.95\\ 6.99 0.85\\ 7.06 0.75\\ 6.92 0.65\\ 6.99 0.55\\ 7.06 0.45\\ 6.92 0.35\\ 6.99 0.25\\ 7.06 0.15\\ 6.92 0.05\\ 6.99 -0.05\\ 7.06 -0.15\\ 6.92 -0.25\\ 6.99 -0.35\\ 7.06 -0.45\\ 6.92 -0.55\\ 6.99 -0.65\\ 7.06 -0.75\\ 6.92 -0.85\\ 6.99 -0.95\\ 7.06 -1.05\\ 6.92 -1.15\\ 6.99 -1.25\\ 7.06 -1.35\\ 6.92 -1.45\\
8.04 1.35\\ 8.11 1.25\\ 7.97 1.15\\ 8.04 1.05\\ 8.11 0.95\\ 7.97 0.85\\ 8.04 0.75\\ 8.11 0.65\\ 7.97 0.55\\ 8.04 0.45\\ 8.11 0.35\\ 7.97 0.25\\ 8.04 0.15\\ 8.11 0.05\\ 7.97 -0.05\\ 8.04 -0.15\\ 8.11 -0.25\\ 7.97 -0.35\\ 8.04 -0.45\\ 8.11 -0.55\\ 7.97 -0.65\\ 8.04 -0.75\\ 8.11 -0.85\\ 7.97 -0.95\\ 8.04 -1.05\\ 8.11 -1.15\\ 7.97 -1.25\\ 8.04 -1.35\\ 8.11 -1.45\\ 7.97 -1.55\\ 8.04 -1.65\\ 8.11 -1.75\\ 7.97 -1.85\\ 8.04 -1.95\\
9.04 1.95\\ 9.11 1.85\\ 8.97 1.75\\ 9.04 1.65\\ 9.11 1.55\\ 8.97 1.45\\ 9.04 1.35\\ 9.11 1.25\\ 8.97 1.15\\ 9.04 1.05\\ 9.11 0.95\\ 8.97 0.85\\ 9.04 0.75\\ 9.11 0.65\\ 8.97 0.55\\ 9.04 0.45\\ 9.11 0.35\\ 8.97 0.25\\ 9.04 0.15\\ 9.11 0.05\\ 8.97 -0.05\\ 9.04 -0.15\\ 9.11 -0.25\\ 8.97 -0.35\\ 9.04 -0.45\\ 9.11 -0.55\\ 8.97 -0.65\\ 9.04 -0.75\\
9.98 0.15\\ 9.97 -0.05\\ 9.98 -0.25\\ 9.97 -0.45\\ 9.98 -0.65\\ 9.97 -0.85\\
}\DttB

% ---------------- legend text cells ----------------
\newcommand\subx[1]{\raisebox{-5.5pt}{\fontsize{10.5}{10.5}\selectfont #1}}
\newcommand\supx[1]{\raisebox{6pt}{\fontsize{10.5}{10.5}\selectfont #1}}
\newcommand\LA[1]{\rule[-9pt]{0pt}{26.3pt}\makebox[79pt][l]{#1}}
\newcommand\LB[1]{\rule[-10.7pt]{0pt}{26.7pt}\makebox[79pt][l]{#1}}
\newcommand\LC[1]{\rule[-9pt]{0pt}{33.4pt}\makebox[79pt][l]{#1}}
\newcommand\LD[1]{\rule[-13.3pt]{0pt}{26.6pt}\makebox[79pt][l]{#1}}
\newcommand\dC[2]{$\partial$ C\subx{#1}/ $\partial$ k\subx{#2}}
\newcommand\dCs[2]{$\partial$ C\subx{#1}/ $\partial$ k\rlap{\supx{#2}}\subx{20}}
\newcommand\Vs[1]{V\subx{#1}}

% red legend sample line: colour set by a direct PDF stroke-colour operator
\makeatletter
\newcommand\redsample{%
  \pgfscope
  \pgfsetlinewidth{0.7pt}%
  \pgfsys@color@rgb@stroke{1}{0}{0}%
  \pgfpathmoveto{\pgfqpoint{4.4pt}{3pt}}%
  \pgfpathlineto{\pgfqpoint{51pt}{3pt}}%
  \pgfusepath{stroke}%
  \endpgfscope}
\makeatother

\pgfplotsset{
  panel/.style={
    scale only axis, width=152pt, height=228pt, anchor=south west,
    xmin=0, xmax=10, ymin=-5, ymax=5,
    xtick={0,5,10}, ytick={-5,0,5},
    axis line style={draw=black!55, line width=0.6pt},
    every tick/.style={draw=black!55, line width=0.5pt},
    major tick length=2pt, tick align=inside,
    xmajorgrids, ymajorgrids, major grid style={draw=black!9, line width=0.6pt},
    tick label style={font=\fontsize{15}{15}\selectfont, text=black!85},
    xticklabel style={anchor=north, inner sep=0pt, yshift=-10.5pt},
    yticklabel style={anchor=east, inner sep=0pt, xshift=-7pt},
    /pgf/number format/assume math mode=true,
    title style={at={(axis description cs:0.5,1)}, anchor=base, yshift=1pt, inner sep=0pt,
                 font=\fontsize{16.5}{16.5}\selectfont, text=black},
    label style={font=\fontsize{18.5}{18.5}\selectfont, text=black!85},
    ylabel style={at={(axis description cs:-0.227,0.5)}, anchor=center},
    xlabel style={at={(axis description cs:0.5,-0.187)}, anchor=center},
    legend style={anchor=north west, draw=black!70, line width=0.75pt, fill=white,
                  inner xsep=0pt, inner ysep=0pt, font=\fontsize{14}{14}\selectfont,
                  cells={anchor=base west}, nodes={inner sep=0pt, text depth=},
                  row sep=0pt, column sep=0pt},
  },
  expo/.style={extra description/.append code={
      \node[anchor=base west, inner sep=0pt, font=\fontsize{15}{15}\selectfont, text=black!80,
            yshift=4pt] at (0.01,1) {×10\raisebox{5.5pt}{\fontsize{11}{11}\selectfont -#1}};}},
  blk/.style={only marks, mark=o, mark size=2.2pt, black, line width=0.75pt},
  blu/.style={only marks, mark=o, mark size=2.2pt, blue, line width=0.75pt},
  mkimg/.style={legend image code/.code={
      \path[draw=none, fill=none] (0pt,-4pt) rectangle (54pt,4pt);
      \draw[##1, line width=0.6pt, mark size=4pt] plot coordinates {(28.4pt,#1)};}},
  vline/.style={red, line width=0.7pt, no markers,
      legend image code/.code={
      \path[draw=none, fill=none] (0pt,-4pt) rectangle (54pt,4pt);
      \redsample}},
}

\begin{document}
\begin{tikzpicture}
\useasboundingbox (0pt,0pt) rectangle (1122pt,592pt);

% ======== row 1 ========
\begin{axis}[panel, at={(52pt,336pt)}, title={Range}, expo=7, ylabel={Partials},
  legend style={at={(axis description cs:0.04,0.943)}}]
\addplot[blk, mkimg=3.3pt] table {\Rtw}; \addlegendentry{\LA{\dC{20}{20}}}
\addplot[vline] table {\Vtw}; \addlegendentry{\LB{\Vs{20}}}
\end{axis}

\begin{axis}[panel, at={(233.2pt,336pt)}, title={Doppler}, expo=7,
  legend style={at={(axis description cs:0.04,0.984)}}]
\addplot[blu, mkimg=3.3pt] table {\Dtw}; \addlegendentry{\LA{\dC{20}{20}}}
\addplot[blu, forget plot] table {\DtwB};
\addplot[vline] table {\Vtw}; \addlegendentry{\LB{\Vs{20}}}
\end{axis}

\begin{axis}[panel, at={(414.4pt,336pt)}, title={Range}, expo=7,
  legend style={at={(axis description cs:0.037,0.944)}}]
\addplot[blk, mkimg=3.3pt] table {\Zr}; \addlegendentry{\LA{\dC{21}{21}}}
\addplot[vline] table {\Vzero}; \addlegendentry{\LB{\Vs{21}}}
\end{axis}

\begin{axis}[panel, at={(595.6pt,336pt)}, title={Doppler}, expo=7,
  legend style={at={(axis description cs:0.04,0.944)}}]
\addplot[blu, mkimg=3.3pt] table {\Zr}; \addlegendentry{\LA{\dC{21}{21}}}
\addplot[vline] table {\Vzero}; \addlegendentry{\LB{\Vs{21}}}
\end{axis}

\begin{axis}[panel, at={(776.8pt,336pt)}, title={Range}, expo=6,
  legend style={at={(axis description cs:0.039,0.943)}}]
\addplot[blk, mkimg=3.3pt] table {\Rtt}; \addlegendentry{\LA{\dC{22}{22}}}
\addplot[blk, forget plot] table {\RttB};
\addplot[vline] table {\Vtt}; \addlegendentry{\LB{\Vs{22}}}
\end{axis}

\begin{axis}[panel, at={(958pt,336pt)}, title={Doppler}, expo=6,
  legend style={at={(axis description cs:0.035,0.943)}}]
\addplot[blu, mkimg=3.3pt] table {\Dtt}; \addlegendentry{\LA{\dC{22}{22}}}
\addplot[blu, forget plot] table {\DttB};
\addplot[vline] table {\Vtt}; \addlegendentry{\LB{\Vs{22}}}
\end{axis}

% ======== row 2 ========
\begin{axis}[panel, at={(52pt,57pt)}, expo=7, ylabel={Partials}, xlabel={Time [days]},
  legend style={at={(axis description cs:0.04,0.950)}}]
\addplot[blk, mkimg=6pt] table {\Rtw}; \addlegendentry{\LC{\dCs{20}{20}}}
\addplot[vline] table {\Vtw}; \addlegendentry{\LD{\Vs{20}}}
\end{axis}

\begin{axis}[panel, at={(233.2pt,57pt)}, expo=7, xlabel={Time [days]},
  legend style={at={(axis description cs:0.03,0.999)}}]
\addplot[blu, mkimg=6pt] table {\Dtw}; \addlegendentry{\LC{\dCs{20}{20}}}
\addplot[blu, forget plot] table {\DtwB};
\addplot[vline] table {\Vtw}; \addlegendentry{\LD{\Vs{20}}}
\end{axis}

\begin{axis}[panel, at={(414.4pt,57pt)}, expo=7, xlabel={Time [days]},
  legend style={at={(axis description cs:0.04,0.950)}}]
\addplot[blk, mkimg=6pt] table {\Zr}; \addlegendentry{\LC{\dCs{21}{21}}}
\addplot[vline] table {\Vzero}; \addlegendentry{\LD{\Vs{21}}}
\end{axis}

\begin{axis}[panel, at={(595.6pt,57pt)}, expo=7, xlabel={Time [days]},
  legend style={at={(axis description cs:0.04,0.950)}}]
\addplot[blu, mkimg=6pt] table {\Zr}; \addlegendentry{\LC{\dCs{21}{21}}}
\addplot[vline] table {\Vzero}; \addlegendentry{\LD{\Vs{21}}}
\end{axis}

\begin{axis}[panel, at={(776.8pt,57pt)}, expo=6, xlabel={Time [days]},
  legend style={at={(axis description cs:0.039,0.946)}}]
\addplot[blk, mkimg=6pt] table {\Rtt}; \addlegendentry{\LC{\dCs{22}{22}}}
\addplot[blk, forget plot] table {\RttB};
\addplot[vline] table {\Vtt}; \addlegendentry{\LD{\Vs{22}}}
\end{axis}

\begin{axis}[panel, at={(958pt,57pt)}, expo=6, xlabel={Time [days]},
  legend style={at={(axis description cs:0.035,0.946)}}]
\addplot[blu, mkimg=6pt] table {\Dtt}; \addlegendentry{\LC{\dCs{22}{22}}}
\addplot[blu, forget plot] table {\DttB};
\addplot[vline] table {\Vtt}; \addlegendentry{\LD{\Vs{22}}}
\end{axis}

\end{tikzpicture}
\end{document}
